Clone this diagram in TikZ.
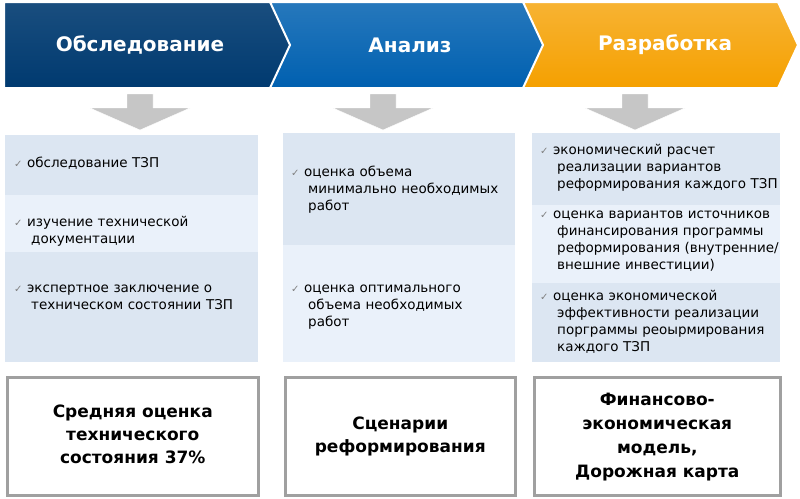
\documentclass[tikz,border=0pt]{standalone}
\usepackage{fontspec}
\setmainfont{DejaVu Sans}
\usetikzlibrary{positioning,calc}
\definecolor{navy}{RGB}{0,58,112}
\definecolor{midblue}{RGB}{0,96,176}
\definecolor{amber}{RGB}{245,160,0}
\definecolor{rowdark}{RGB}{220,230,242}
\definecolor{rowlight}{RGB}{234,241,250}
\definecolor{framegray}{RGB}{160,160,160}
\newcommand{\chk}{{\color{gray}\fontsize{10}{12}\selectfont ✓}\ }
\newcommand{\ind}{\\\hspace*{17pt}}
\begin{document}
\begin{tikzpicture}[x=1pt,y=-1pt,
        chev/.style={draw=white, line width=2pt},
        title/.style={text=white, font=\bfseries\fontsize{20}{24}\selectfont},
        item/.style={anchor=north west, text width=#1, align=left, font=\fontsize{13.5}{17}\selectfont, inner sep=0pt},
        result/.style={draw=framegray, line width=2.5pt, fill=white, anchor=north west},
        down/.style={fill=gray!45, draw=white}
    ]
        \useasboundingbox (0,0) rectangle (800,498);

        % Chevrons
        \fill[chev, top color=navy!90, bottom color=navy] (4,2) -- (272,2) -- (292,45) -- (272,88) -- (4,88) -- cycle;
        \fill[chev, top color=midblue!85, bottom color=midblue] (270,2) -- (525,2) -- (545,45) -- (525,88) -- (270,88) -- (290,45) -- cycle;
        \fill[chev, top color=amber!80, bottom color=amber] (523,2) -- (778,2) -- (798,45) -- (778,88) -- (523,88) -- (543,45) -- cycle;
        \node[title] (t1) at (140,45) {Обследование};
        \node[title] (t2) at (410,45) {Анализ};
        \node[title] (t3) at (665,45) {Разработка};

        % Down arrows
        \foreach \cx in {140,383,635}
          \fill[down] (\cx-13,94) -- (\cx+13,94) -- (\cx+13,108) -- (\cx+50,108) -- (\cx,130) -- (\cx-50,108) -- (\cx-13,108) -- cycle;

        % Column 1
        \fill[rowdark] (5,135) rectangle (258,195);
        \fill[rowlight] (5,195) rectangle (258,252);
        \fill[rowdark] (5,252) rectangle (258,362);
        \node[item=245pt] (a1) at (14,157) {\chk обследование ТЗП};
        \node[item=245pt] (a2) at (14,216) {\chk изучение технической\ind документации};
        \node[item=245pt] (a3) at (14,285) {\chk экспертное заключение о\ind техническом состоянии ТЗП};

        % Column 2
        \fill[rowdark] (283,133) rectangle (515,245);
        \fill[rowlight] (283,245) rectangle (515,362);
        \node[item=230pt] (b1) at (291,166) {\chk оценка объема\ind минимально необходимых\ind работ};
        \node[item=230pt] (b2) at (291,285) {\chk оценка оптимального\ind объема необходимых\ind работ};

        % Column 3
        \fill[rowdark] (532,133) rectangle (780,205);
        \fill[rowlight] (532,205) rectangle (780,283);
        \fill[rowdark] (532,283) rectangle (780,362);
        \node[item=250pt] (c1) at (540,144) {\chk экономический расчет\ind реализации вариантов\ind реформирования каждого ТЗП};
        \node[item=250pt] (c2) at (540,211) {\chk оценка вариантов источников\ind финансирования программы\ind реформирования (внутренние/\ind внешние инвестиции)};
        \node[item=250pt] (c3) at (540,290) {\chk оценка экономической\ind эффективности реализации\ind порграммы реоырмирования\ind каждого ТЗП};

        % Results
        \node[result, minimum width=251pt, minimum height=118pt] (r1) at (6,376) {};
        \node (r1t) at (r1.center) {\bfseries\fontsize{17}{23}\selectfont\begin{tabular}{c}Средняя оценка\\технического\\состояния 37\%\end{tabular}};
        \node[result, minimum width=230pt, minimum height=118pt] (r2) at (284,376) {};
        \node (r2t) at (r2.center) {\bfseries\fontsize{17}{23}\selectfont\begin{tabular}{c}Сценарии\\реформирования\end{tabular}};
        \node[result, minimum width=246pt, minimum height=118pt] (r3) at (533,376) {};
        \node (r3t) at (r3.center) {\bfseries\fontsize{17}{24}\selectfont\begin{tabular}{c}Финансово-\\экономическая\\модель,\\Дорожная карта\end{tabular}};
    \end{tikzpicture}
\end{document}
